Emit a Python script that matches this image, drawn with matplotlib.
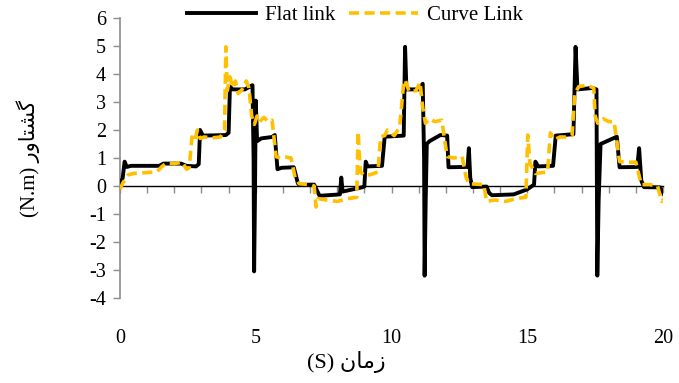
import matplotlib
matplotlib.use("Agg")
import matplotlib.pyplot as plt
from matplotlib.ticker import MultipleLocator, NullFormatter, FixedLocator

# Flat link torque (time s, torque N.m)
flat_t = [0, 0.1, 0.17, 0.25, 0.4, 1.45, 1.6, 2.25, 2.45, 2.8, 2.9, 2.95, 3.05, 3.9, 4.0,
          4.05, 4.15, 4.6, 4.88, 4.92, 4.94, 4.97, 5.0, 5.05, 5.2, 5.6, 5.7, 5.8, 5.95,
          6.4, 6.55, 6.6, 7.15, 7.25, 7.35, 8.1, 8.15, 8.2, 8.9, 9.0, 9.05, 9.12, 9.65,
          9.75, 10.45, 10.5, 10.55, 11.0, 11.15, 11.2, 11.22, 11.26, 11.3, 11.4, 11.8,
          12.05, 12.1, 12.8, 12.85, 12.9, 12.97, 13.5, 13.6, 13.7, 14.5, 15.0, 15.25,
          15.3, 15.4, 15.95, 16.05, 16.7, 16.78, 16.85, 17.4, 17.55, 17.58, 17.63, 17.7,
          18.3, 18.4, 19.05, 19.12, 19.2, 19.3, 19.9, 20.05]
flat_v = [0, 0.3, 0.87, 0.68, 0.72, 0.72, 0.8, 0.8, 0.72, 0.7, 0.78, 2.0, 1.8, 1.82, 1.9,
          3.55, 3.45, 3.45, 3.6, 1.0, -3.05, -0.5, 3.05, 1.6, 1.7, 1.75, 1.82, 0.6, 0.65,
          0.67, 0.1, 0.04, 0.05, -0.15, -0.35, -0.3, 0.3, -0.2, -0.05, -0.02, 0.87, 0.7, 0.72,
          1.76, 1.8, 4.97, 3.45, 3.45, 3.65, 1.0, -3.2, -0.5, 1.5, 1.6, 1.82,
          1.8, 0.67, 0.68, 1.35, 0.3, -0.04, -0.02, -0.25, -0.33, -0.3, -0.12, 0.05,
          0.87, 0.7, 0.72, 1.8, 1.85, 4.97, 3.45, 3.5, 3.45, -3.2, -0.5, 1.5,
          1.76, 0.67, 0.68, 1.35, 0.2, -0.04, -0.05, -0.33]

# Curve link torque
curve_t = [0, 0.1, 0.3, 0.5, 1.0, 1.35, 1.55, 1.7, 2.0, 2.3, 2.45, 2.55, 2.65, 2.75, 2.85,
           2.95, 3.1, 3.4, 3.7, 3.85, 3.9, 3.95, 4.05, 4.15, 4.25, 4.35, 4.5, 4.65, 4.75,
           4.85, 4.95, 5.05, 5.15, 5.3, 5.45, 5.6, 5.75, 5.9, 6.05, 6.3, 6.45, 6.6, 7.0,
           7.15, 7.22, 7.3, 7.6, 8.0, 8.4, 8.72, 8.77, 8.85, 9.05, 9.5, 9.6, 9.75, 9.85,
           10.1, 10.3, 10.45, 10.5, 10.65, 10.9, 11.05, 11.15, 11.25, 11.4, 11.6, 11.85,
           12.05, 12.3, 12.6, 12.75, 12.85, 13.4, 13.5, 13.8, 14.2, 14.6, 14.95, 15.02,
           15.1, 15.3, 15.75, 15.85, 16.0, 16.2, 16.4, 16.65, 16.75, 16.9, 17.2, 17.45,
           17.5, 17.6, 17.8, 18.0, 18.2, 18.4, 18.7, 19.0, 19.2, 19.5, 19.8, 19.95, 20.05]
curve_v = [-0.12, 0.1, 0.4, 0.45, 0.48, 0.5, 0.7, 0.82, 0.8, 0.85, 0.6, 0.65, 1.75, 1.6, 2.0,
           1.7, 1.75, 1.72, 1.75, 2.0, 4.97, 3.4, 3.9, 3.5, 3.75, 3.3, 3.45, 3.75, 3.5,
           2.5, 2.2, 2.5, 2.3, 2.45, 2.3, 2.35, 1.05, 1.0, 1.05, 1.0, 0.3, 0.08, 0.05,
           0.0, -0.75, -0.45, -0.5, -0.55, -0.45, -0.4, 1.94, 0.5, 0.35, 0.5, 1.76, 1.8, 2.0,
           1.8, 2.1, 3.7, 3.79, 3.37, 3.4, 3.7, 2.8, 2.24, 2.4, 2.3, 2.35,
           1.05, 1.0, 1.05, 0.3, 0.08, 0.05, -0.55, -0.5, -0.55, -0.45, -0.4, 1.82,
           0.8, 0.45, 0.5, 1.9, 1.65, 1.75, 1.75, 1.8, 3.3, 3.55, 3.6, 3.5,
           2.5, 2.24, 2.4, 2.3, 2.3, 0.87, 0.85, 0.85, 0.05, 0.05, 0.0, -0.55, -0.45]

x_labels = [0, 5, 10, 15, 20]
y_ticks = list(range(-4, 7))

# Persian labels, pre-shaped (presentation forms, visual order)
torque_fa = "\uFEAD\uFEED\uFE8E\uFE98\uFEB8\uFB94"   # گشتاور
time_fa = "\uFEE5\uFE8E\uFEE3\uFEAF"                 # زمان

fonts = ["Liberation Serif", "DejaVu Sans"]
plt.rcParams["font.family"] = fonts
plt.rcParams["axes.unicode_minus"] = False

fig = plt.figure(figsize=(6.79, 3.83), dpi=100)
W, H = 679, 383
ax = fig.add_axes([120 / W, (H - 298) / H, 543 / W, 280 / H])

ax.plot(flat_t, flat_v, color="black", lw=2.8, label="Flat link", zorder=3)
ax.plot(curve_t, curve_v, color="#FFC000", lw=2.6, dashes=(2.8, 1.5), label="Curve Link", zorder=4)

ax.set_xlim(0, 20)
ax.set_ylim(-4, 6)

for s in ["top", "right"]:
    ax.spines[s].set_visible(False)
ax.spines["left"].set_color("#8c8c8c")
ax.spines["left"].set_linewidth(1.2)
ax.spines["bottom"].set_position(("data", 0))
ax.spines["bottom"].set_color("black")
ax.spines["bottom"].set_linewidth(1.0)
ax.spines["bottom"].set_zorder(2)

ax.set_yticks(y_ticks)
ax.tick_params(axis="y", direction="out", length=5, width=1, color="#8c8c8c", pad=5, labelsize=14.5)

ax.xaxis.set_major_locator(FixedLocator(x_labels))
ax.xaxis.set_minor_locator(MultipleLocator(1))
ax.xaxis.set_minor_formatter(NullFormatter())
ax.tick_params(axis="x", which="both", direction="out", length=5, width=1, color="#8c8c8c")
ax.tick_params(axis="x", which="major", pad=98, labelsize=14.5)

fig.text(28 / W, 1 - 158 / H, "(N.m) " + torque_fa, rotation=90, ha="center", va="center",
         fontsize=15, family=fonts)
fig.text(346 / W, 1 - 362 / H, "(S) " + time_fa, ha="center", va="center",
         fontsize=16, family=fonts)

fig.legend(loc="center", bbox_to_anchor=(355 / W, 1 - 15 / H), ncol=2, frameon=False,
           fontsize=15, handlelength=3.3, handletextpad=0.4, columnspacing=0.7,
           borderpad=0, borderaxespad=0)

fig.savefig("out.png", dpi=100)
